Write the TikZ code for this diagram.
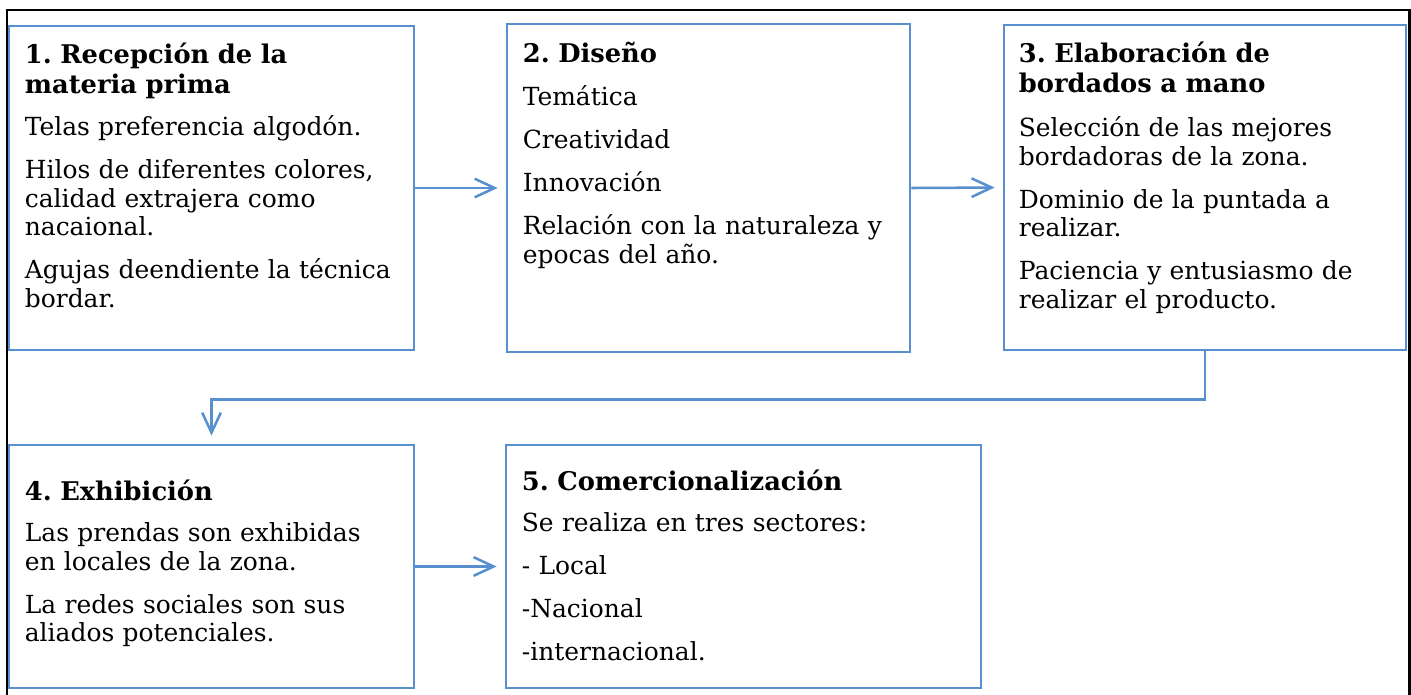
\documentclass[tikz,border=0pt]{standalone}
\usepackage{fontspec}
\setmainfont{DejaVu Serif}
\usepackage{xcolor}
\usetikzlibrary{arrows.meta, positioning}
\definecolor{stagecolor}{RGB}{88, 143, 206}
\frenchspacing

\begin{document}
\begin{tikzpicture}[x=0.75pt, y=-0.75pt,
    stagebox/.style={draw=stagecolor, line width=2.1pt, rectangle, inner sep=0pt},
    stagetitle/.style={anchor=base west, inner sep=0pt, text width=330pt, align=left, font=\fontsize{19.3}{22.5}\selectfont\bfseries},
    stagetext/.style={anchor=base west, inner sep=0pt, text width=330pt, align=left, font=\fontsize{18.7}{21.4}\selectfont},
    flowarrow/.style={draw=stagecolor, line width=1.9pt, -{Straight Barb[length=15pt, width=14pt]}, shorten >=6pt}]
    \useasboundingbox (0,0) rectangle (1411,694);

    % Outer frame
    \draw[line width=1.8pt] (7,700) -- (7,10) -- (1409.5,10) -- (1409.5,700);

    % 1. Reception
    \node[stagebox, minimum width=303.75pt, minimum height=243pt] (b1) at (211.5,188) {};
    \node[stagetitle] (t1) at ([shift={(17,39)}]b1.north west) {1. Recepción de la\\materia prima};
    \node[stagetext] (d1) at ([shift={(17,111)}]b1.north west) {Telas preferencia algodón.\\[10.9pt]Hilos de diferentes colores,\\calidad extrajera como\\nacaional.\\[10.9pt]Agujas deendiente la técnica\\bordar.};

    % 2. Design
    \node[stagebox, minimum width=302.25pt, minimum height=246pt] (b2) at (708.5,188) {};
    \node[stagetitle] (t2) at ([shift={(17,40)}]b2.north west) {2. Diseño};
    \node[stagetext] (d2) at ([shift={(17,83)}]b2.north west) {Temática\\[10.9pt]Creatividad\\[10.9pt]Innovación\\[10.9pt]Relación con la naturaleza y\\epocas del año.};

    % 3. Embroidery
    \node[stagebox, minimum width=301.5pt, minimum height=243.75pt] (b3) at (1205,187.5) {};
    \node[stagetitle] (t3) at ([shift={(16,39)}]b3.north west) {3. Elaboración de\\bordados a mano};
    \node[stagetext] (d3) at ([shift={(16,113)}]b3.north west) {Selección de las mejores\\bordadoras de la zona.\\[10.9pt]Dominio de la puntada a\\realizar.\\[10.9pt]Paciencia y entusiasmo de\\realizar el producto.};

    % 4. Exhibition
    \node[stagebox, minimum width=303.75pt, minimum height=182.25pt] (b4) at (211.5,566.5) {};
    \node[stagetitle] (t4) at ([shift={(17,57)}]b4.north west) {4. Exhibición};
    \node[stagetext] (d4) at ([shift={(17,98)}]b4.north west) {Las prendas son exhibidas\\en locales de la zona.\\[10.9pt]La redes sociales son sus\\aliados potenciales.};

    % 5. Marketing
    \node[stagebox, minimum width=356.25pt, minimum height=182.25pt] (b5) at (743.5,566.5) {};
    \node[stagetitle] (t5) at ([shift={(17,47)}]b5.north west) {5. Comercionalización};
    \node[stagetext] (d5) at ([shift={(17,88)}]b5.north west) {Se realiza en tres sectores:\\[10.9pt]- Local\\[10.9pt]-Nacional\\[10.9pt]-internacional.};

    % Flow
    \draw[flowarrow] (b1.east) -- (b2.west);
    \draw[flowarrow] (b2.east) -- (b3.west);
    \draw[flowarrow] (b3.south) -- ++(0,48) -| (b4.north);
    \draw[flowarrow] (b4.east) -- (b5.west);

\end{tikzpicture}
\end{document}
